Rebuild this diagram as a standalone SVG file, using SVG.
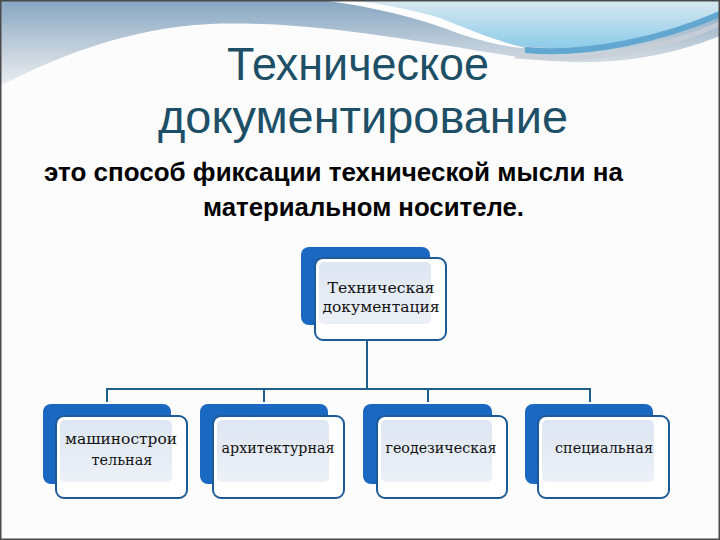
<svg xmlns="http://www.w3.org/2000/svg" width="720" height="540" viewBox="0 0 720 540">
<defs>
<linearGradient id="sky" x1="0" y1="0" x2="0" y2="1">
<stop offset="0" stop-color="#85a6c2"/>
<stop offset="0.6" stop-color="#c9d4de"/>
<stop offset="1" stop-color="#eef1f4"/>
</linearGradient>
<linearGradient id="blue" x1="0" y1="0" x2="0" y2="1">
<stop offset="0" stop-color="#d9e9f1"/>
<stop offset="1" stop-color="#8dcbe9"/>
</linearGradient>
<linearGradient id="inner" x1="0" y1="0" x2="0" y2="1">
<stop offset="0" stop-color="#dde6f2"/>
<stop offset="1" stop-color="#edf1f7"/>
</linearGradient>
<style>
.back{fill:#1a68c2;}
.front{fill:#ffffff;stroke:#1d5b98;stroke-width:2;}
.inner{fill:url(#inner);}
.lbl{font-family:"DejaVu Serif","Liberation Serif",serif;font-size:15px;fill:#111;text-anchor:middle;}
.conn{fill:none;stroke:#1f5f8c;stroke-width:2;}
.title{font-family:"Liberation Sans",Arial,sans-serif;font-size:46px;fill:#1d4f66;text-anchor:middle;}
.sub{font-family:"Liberation Sans",Arial,sans-serif;font-size:26px;font-weight:bold;fill:#000;}
</style>
</defs>
<rect x="0" y="0" width="720" height="540" fill="#fcfcfd"/>
<rect x="0" y="0" width="720" height="90" fill="url(#sky)"/>
<path d="M0,86 C60,55 130,28 210,24 C320,20 430,45 540,60 C620,68 680,52 720,36 L720,540 L0,540 Z" fill="#fcfcfd"/>
<path d="M325,0 H720 V12 C680,32 620,48 560,48 C520,48 485,42 455,30 C412,14 362,4 325,0 Z" fill="url(#blue)"/>
<path d="M320,0 C370,6 420,18 460,34 C490,44 515,48 525,48 C500,42 470,30 440,18 C400,6 360,1 345,0 Z" fill="#ffffff"/>
<path d="M525,50 C590,56 665,38 720,14" fill="none" stroke="#62a7cf" stroke-width="6"/>
<path d="M515,56 C590,64 665,48 720,24" fill="none" stroke="#c9ced6" stroke-width="5" opacity="0.8"/>
<rect x="0.75" y="0.75" width="718.5" height="538.5" fill="none" stroke="#4a4a4a" stroke-width="1.5"/>

<text class="title" x="358" y="80" textLength="262" lengthAdjust="spacingAndGlyphs">Техническое</text>
<text class="title" x="363" y="133" textLength="410" lengthAdjust="spacingAndGlyphs">документирование</text>
<text class="sub" x="44" y="181" textLength="579" lengthAdjust="spacingAndGlyphs">это способ фиксации технической мысли на</text>
<text class="sub" x="203" y="216" textLength="321" lengthAdjust="spacingAndGlyphs">материальном носителе.</text>

<g id="connectors">
<path class="conn" d="M367,340 V389"/>
<path class="conn" d="M107,402 V389 H590 V402"/>
<path class="conn" d="M264,389 V402"/>
<path class="conn" d="M428,389 V402"/>
</g>

<g id="n0">
<rect class="back" x="301" y="247" width="129" height="78" rx="8"/>
<rect class="front" x="315" y="258" width="131" height="82" rx="8"/>
<rect class="inner" x="319" y="262" width="112" height="62" rx="5"/>
<text class="lbl" x="381" y="293" textLength="107" lengthAdjust="spacingAndGlyphs">Техническая</text>
<text class="lbl" x="381" y="312" textLength="117" lengthAdjust="spacingAndGlyphs">документация</text>
</g>
<g id="n1">
<rect class="back" x="43" y="404" width="128" height="80" rx="8"/>
<rect class="front" x="56" y="416" width="131" height="82" rx="8"/>
<rect class="inner" x="60" y="420" width="112" height="62" rx="5"/>
<text class="lbl" x="121" y="444" textLength="112" lengthAdjust="spacingAndGlyphs">машинострои</text>
<text class="lbl" x="122" y="465" textLength="61" lengthAdjust="spacingAndGlyphs">тельная</text>
</g>
<g id="n2">
<rect class="back" x="200" y="404" width="128" height="80" rx="8"/>
<rect class="front" x="213" y="416" width="131" height="82" rx="8"/>
<rect class="inner" x="217" y="420" width="112" height="62" rx="5"/>
<text class="lbl" x="278" y="453" textLength="113" lengthAdjust="spacingAndGlyphs">архитектурная</text>
</g>
<g id="n3">
<rect class="back" x="363" y="404" width="129" height="80" rx="8"/>
<rect class="front" x="377" y="416" width="130" height="82" rx="8"/>
<rect class="inner" x="381" y="420" width="111" height="62" rx="5"/>
<text class="lbl" x="441" y="453" textLength="111" lengthAdjust="spacingAndGlyphs">геодезическая</text>
</g>
<g id="n4">
<rect class="back" x="525" y="404" width="128" height="80" rx="8"/>
<rect class="front" x="538" y="416" width="131" height="82" rx="8"/>
<rect class="inner" x="542" y="420" width="112" height="62" rx="5"/>
<text class="lbl" x="604" y="453" textLength="98" lengthAdjust="spacingAndGlyphs">специальная</text>
</g>
</svg>
